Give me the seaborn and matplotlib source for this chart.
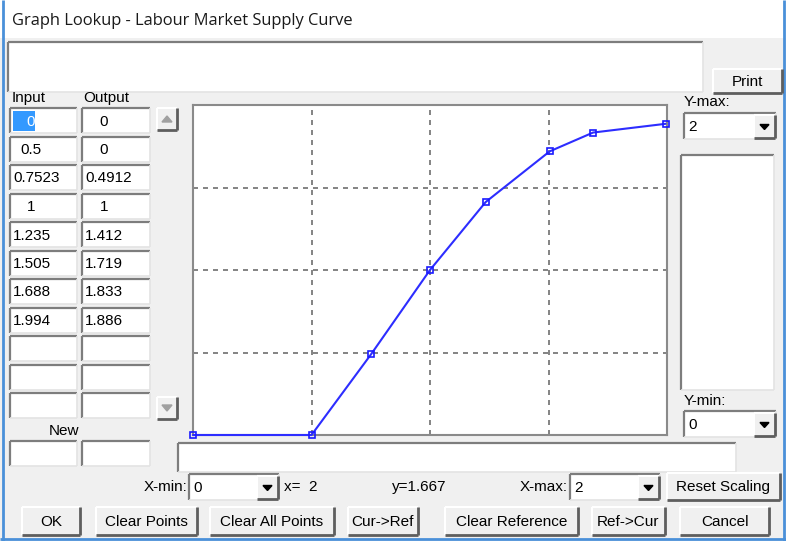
import matplotlib
matplotlib.use("Agg")
import matplotlib.pyplot as plt
import seaborn as sns
from matplotlib.patches import Rectangle, Polygon
from matplotlib import font_manager

# Lookup table values (input -> output)
inputs = [0, 0.5, 0.7523, 1, 1.235, 1.505, 1.688, 1.994]
outputs = [0, 0, 0.4912, 1, 1.412, 1.719, 1.833, 1.886]
input_labels = ["0", "0.5", "0.7523", "1", "1.235", "1.505", "1.688", "1.994"]
output_labels = ["0", "0", "0.4912", "1", "1.412", "1.719", "1.833", "1.886"]
x_min, x_max = 0, 2
y_min, y_max = 0, 2
grid_steps = [0.5, 1.0, 1.5]

title = "Graph Lookup - Labour Market Supply Curve"
buttons = [("OK", 22, 80), ("Clear Points", 96, 197), ("Clear All Points", 210, 334),
           ("Cur->Ref", 348, 418), ("Clear Reference", 445, 578),
           ("Ref->Cur", 592, 665), ("Cancel", 680, 769)]

names = {f.name for f in font_manager.fontManager.ttflist}
ui_font = "Liberation Sans Narrow" if "Liberation Sans Narrow" in names else "Liberation Sans"

sns.set_style("white")
plt.rcParams['font.family'] = [ui_font, 'DejaVu Sans']

W, H = 786, 541
fig = plt.figure(figsize=(W / 100, H / 100), dpi=100, facecolor="#f0f0f0")

# overlay axes in pixel coordinates for the dialog chrome
ui = fig.add_axes([0, 0, 1, 1])
ui.set_xlim(0, W)
ui.set_ylim(H, 0)
ui.axis("off")


def line(x0, y0, x1, y1, c, lw=1.0):
    ui.plot([x0, x1], [y0, y1], color=c, lw=lw, solid_capstyle="butt")


def sunken(x0, y0, x1, y1, face="white"):
    ui.add_patch(Rectangle((x0, y0), x1 - x0, y1 - y0, facecolor=face, edgecolor="none"))
    line(x0, y0, x1, y0, "#7d7d7d", 1.6)
    line(x0, y0, x0, y1, "#7d7d7d", 1.6)
    line(x0, y1, x1, y1, "#e3e3e3", 1.2)
    line(x1, y0, x1, y1, "#e3e3e3", 1.2)


def raised(x0, y0, x1, y1, label=None, fs=11):
    ui.add_patch(Rectangle((x0, y0), x1 - x0, y1 - y0, facecolor="#f0f0f0", edgecolor="none"))
    line(x0, y0, x1, y0, "#ffffff", 1.5)
    line(x0, y0, x0, y1, "#ffffff", 1.5)
    line(x0, y1, x1, y1, "#5e5e5e", 2.0)
    line(x1, y0, x1, y1, "#5e5e5e", 2.0)
    if label:
        ui.text((x0 + x1) / 2, (y0 + y1) / 2 + 1, label, ha="center", va="center", fontsize=fs, color="black")


def txt(x, y, s, ha="left", fs=11, color="black", **kw):
    ui.text(x, y, s, ha=ha, va="center", fontsize=fs, color=color, **kw)


def combo(x0, y0, x1, y1, value):
    sunken(x0, y0, x1, y1)
    raised(x1 - 22, y0 + 2, x1 - 1, y1 - 1)
    cx, cy = x1 - 11.5, (y0 + y1) / 2 + 1
    ui.add_patch(Polygon([[cx - 4.5, cy - 2.5], [cx + 4.5, cy - 2.5], [cx, cy + 2.5]], color="black"))
    txt(x0 + 4, (y0 + y1) / 2 + 1, value)


# title bar and window border
ui.add_patch(Rectangle((0, 0), W, 38, facecolor="white", edgecolor="none"))
ui.text(12, 21, title, ha="left", va="center", fontsize=11.9, color="#1a1a1a",
        family=["Open Sans", "DejaVu Sans"])
line(2.5, 0, 2.5, H, "#4a90d9", 2)
line(W - 2.5, 0, W - 2.5, H, "#4a90d9", 2)
line(0, H - 2, W, H - 2, "#4a90d9", 2)

# comment box and print button
sunken(8, 42, 703, 92)
raised(713, 69, 782, 93, "Print")

# input / output table
txt(12, 98, "Input")
txt(83, 98, "Output")
row_top = [108 + i * 28.5 for i in range(11)]
for i, top in enumerate(row_top):
    for cx0, cx1 in [(10, 77), (82, 150)]:
        sunken(cx0, top, cx1, top + 25)
    if i < len(input_labels):
        for s, cx0, center in [(input_labels[i], 10, 31), (output_labels[i], 82, 104)]:
            ty = top + 13.5
            if i == 0 and cx0 == 10:
                ui.add_patch(Rectangle((13, top + 3), 22, 20, facecolor="#3399ff", edgecolor="none"))
                txt(center, ty, s, ha="center", color="white")
            elif len(s) <= 3:
                txt(center, ty, s, ha="center")
            else:
                txt(cx0 + 3, ty, s)

# scroll buttons
raised(157, 108, 177, 130)
ui.add_patch(Polygon([[162, 122], [172, 122], [167, 116]], color="#a0a0a0"))
raised(157, 397, 177, 419)
ui.add_patch(Polygon([[162, 405], [172, 405], [167, 411]], color="#a0a0a0"))

# new point entry
txt(64, 431, "New", ha="center")
sunken(10, 441, 77, 466)
sunken(82, 441, 150, 466)

# status box under graph
sunken(178, 443, 736, 472)

# right-hand controls
txt(684, 102, "Y-max:")
combo(684, 113, 776, 139, "2")
sunken(681, 155, 774, 390)
txt(684, 401, "Y-min:")
combo(684, 411, 776, 437, "0")

# bottom scaling row
txt(187, 487, "X-min:", ha="right")
combo(189, 474, 279, 500, "0")
txt(284, 487, "x=  2")
txt(392, 487, "y=1.667")
txt(568, 487, "X-max:", ha="right")
combo(570, 474, 660, 500, "2")
raised(667, 473, 780, 500, "Reset Scaling")

for label, bx0, bx1 in buttons:
    raised(bx0, 507, bx1, 535, label)

# graph area
ax = fig.add_axes([193 / W, (H - 435) / H, (667 - 193) / W, (435 - 105) / H])
ax.set_facecolor("white")
sns.lineplot(x=inputs, y=outputs, ax=ax, color="#2d2dff", lw=1.5, marker="s",
             markersize=4, markerfacecolor="none", markeredgecolor="#1a1aff",
             markeredgewidth=1.2, clip_on=False, zorder=5)
for g in grid_steps:
    ax.axvline(g, color="#6e6e6e", lw=1.2, ls=(0, (3, 3)), zorder=1)
    ax.axhline(g, color="#6e6e6e", lw=1.2, ls=(0, (3, 3)), zorder=1)
ax.set_xlim(x_min, x_max)
ax.set_ylim(y_min, y_max)
ax.set_xticks([])
ax.set_yticks([])
ax.set_xlabel("")
ax.set_ylabel("")
for sp in ax.spines.values():
    sp.set_color("#8a8a8a")
    sp.set_linewidth(1.5)

fig.savefig("out.png", dpi=100, facecolor=fig.get_facecolor())
